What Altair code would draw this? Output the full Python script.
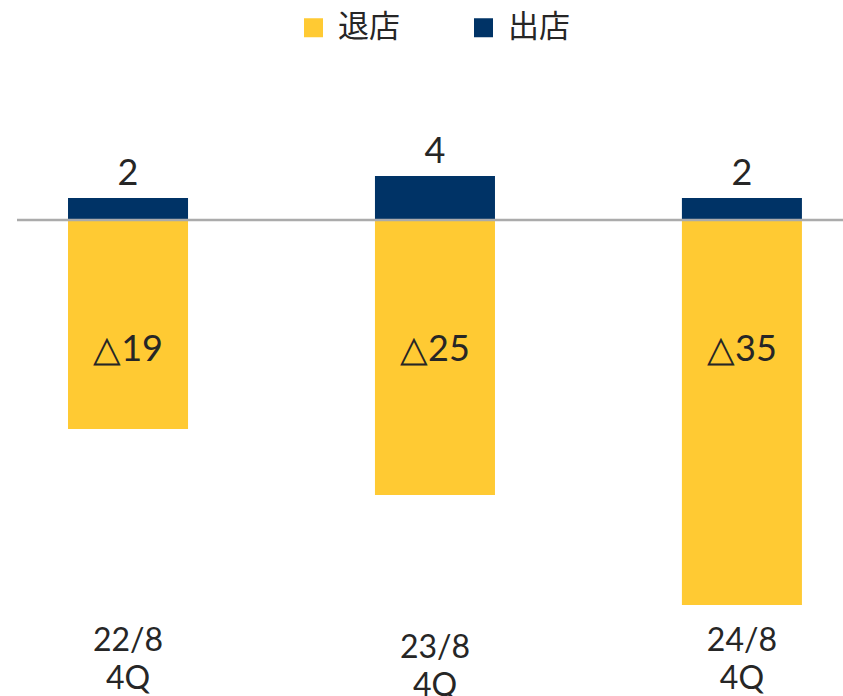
import altair as alt
import pandas as pd

categories = ["22/8 4Q", "23/8 4Q", "24/8 4Q"]
openings = [2, 4, 2]          # 出店
closings = [-19, -25, -35]    # 退店
series_names = ["退店", "出店"]
series_colors = ["#FFCA33", "#003366"]

rows = []
for c, o, cl in zip(categories, openings, closings):
    rows.append({"period": c, "series": "出店", "value": o, "label": str(o)})
    rows.append({"period": c, "series": "退店", "value": cl, "label": "△" + str(abs(cl))})
df = pd.DataFrame(rows)

FONT = "Lato"
TXT = "#262626"

x_enc = alt.X(
    "period:N",
    sort=categories,
    title=None,
    scale=alt.Scale(paddingInner=0.609, paddingOuter=0.15, align=0.554),
    axis=alt.Axis(
        labelExpr="split(datum.label, ' ')",
        labelFont=FONT,
        labelFontSize=32,
        labelColor=TXT,
        labelLineHeight=38,
        labelPadding={"condition": {"test": "datum.value == '23/8 4Q'", "value": 16}, "value": 9},
        labelAngle=0,
        domain=False,
        ticks=False,
        grid=False,
    ),
)
y_scale = alt.Scale(domain=[-36, 5], nice=False, zero=True)

base = alt.Chart(df)

bars = base.mark_bar().encode(
    x=x_enc,
    y=alt.Y("value:Q", stack=None, scale=y_scale, axis=None, title=None),
    color=alt.Color(
        "series:N",
        scale=alt.Scale(domain=series_names, range=series_colors),
        legend=alt.Legend(
            orient="none",
            legendX=281,
            legendY=-153,
            direction="horizontal",
            title=None,
            symbolType="square",
            symbolSize=361,
            symbolStrokeWidth=0,
            labelFont="Noto Sans CJK JP",
            labelFontSize=31,
            labelColor=TXT,
            labelOffset=9,
            columnPadding=68,
        ),
    ),
)

pos_labels = base.transform_filter("datum.value > 0").mark_text(
    font=FONT, fontSize=36, color=TXT, baseline="alphabetic", dy=-13
).encode(x=alt.X("period:N", sort=categories), y=alt.Y("value:Q"), text="label:N")

neg_labels = base.transform_filter("datum.value < 0").mark_text(
    font=FONT, fontSize=36, color=TXT, baseline="alphabetic"
).encode(x=alt.X("period:N", sort=categories), y=alt.datum(-12.8), text="label:N")

zero_rule = alt.Chart(pd.DataFrame({"z": [0]})).mark_rule(
    color="#ABABAB", strokeWidth=2.5
).encode(y=alt.Y("z:Q"))

chart = (
    alt.layer(bars, pos_labels, neg_labels, zero_rule)
    .properties(
        width=826,
        height=451,
        background="white",
        autosize=alt.AutoSizeParams(type="none"),
        padding={"left": 17, "top": 165, "right": 0, "bottom": 80},
    )
    .configure_view(strokeWidth=0, stroke="transparent")
)

chart.save("out.html", embed_options={"renderer": "svg", "actions": False})
